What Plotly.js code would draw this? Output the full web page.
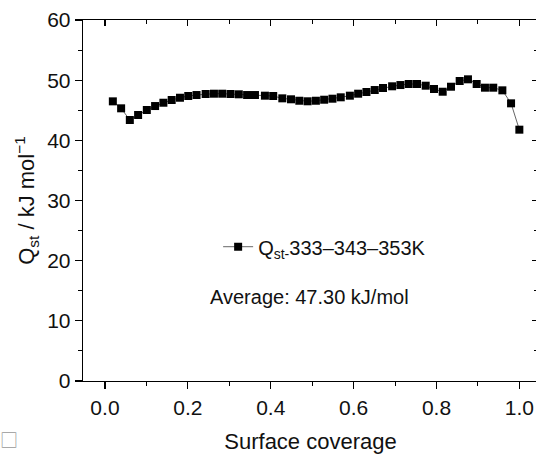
<!DOCTYPE html>
<html><head><meta charset="utf-8">
<script src="https://cdn.plot.ly/plotly-3.0.1.min.js"></script>
<style>html,body{margin:0;padding:0;overflow:hidden;background:#fff;}#chart{width:550px;height:460px;}</style>
</head><body><div id="chart"></div>
<script>
const seriesName = "Q<sub>st-</sub>333–343–353K";
const coverage = [0.019,0.039,0.060,0.080,0.101,0.121,0.141,0.161,0.181,0.201,0.221,0.243,0.263,0.283,0.303,0.323,0.343,0.362,0.386,0.406,0.428,0.449,0.469,0.489,0.509,0.529,0.549,0.569,0.591,0.611,0.631,0.651,0.671,0.693,0.713,0.733,0.753,0.774,0.794,0.815,0.835,0.856,0.876,0.897,0.917,0.937,0.959,0.980,1.000];
const qst = [46.48,45.32,43.38,44.21,45.04,45.70,46.25,46.70,47.08,47.37,47.53,47.70,47.75,47.75,47.70,47.65,47.53,47.53,47.42,47.37,46.98,46.82,46.58,46.49,46.58,46.75,46.92,47.15,47.42,47.75,48.03,48.36,48.70,48.98,49.19,49.36,49.36,49.08,48.53,48.08,48.91,49.86,50.14,49.36,48.75,48.75,48.31,46.15,41.77];
const xTickVals = [0,0.2,0.4,0.6,0.8,1.0];
const xTickText = ["0.0","0.2","0.4","0.6","0.8","1.0"];
const yTickVals = [0,10,20,30,40,50,60];
const averageText = "Average: 47.30 kJ/mol";

const FONT = "'Liberation Sans', Arial, sans-serif";
const trace = {
  x: coverage, y: qst, type: 'scatter', mode: 'lines+markers', name: seriesName,
  line: {color: '#666', width: 1},
  marker: {symbol: 'square', size: 8, color: '#000', line: {width: 0}}
};
const ghost = {x: [], y: [], xaxis: 'x2', yaxis: 'y2', showlegend: false, type: 'scatter'};
const axCommon = {showline: true, linecolor: '#000', linewidth: 1.3, showgrid: false, zeroline: false, tickcolor: '#000', tickwidth: 1.3};
const XR = [-0.053, 1.045];
const layout = {
  width: 550, height: 460,
  margin: {l: 83, r: 12, t: 20, b: 79},
  paper_bgcolor: '#fff', plot_bgcolor: '#fff',
  font: {family: FONT, size: 21, color: '#111'},
  showlegend: true,
  legend: {x: 0.297, y: 0.372, xanchor: 'left', yanchor: 'middle', bgcolor: 'rgba(0,0,0,0)', font: {size: 20, family: FONT}},
  xaxis: Object.assign({}, axCommon, {range: XR, tickvals: xTickVals, ticktext: xTickText, ticks: 'outside', ticklen: 7,
    minor: {dtick: 0.1, tick0: 0, ticks: 'outside', ticklen: 4, tickcolor: '#000', tickwidth: 1},
    title: {text: 'Surface coverage', font: {size: 22, family: FONT}, standoff: 16}}),
  yaxis: Object.assign({}, axCommon, {range: [0, 60], tickvals: yTickVals, ticks: 'outside', ticklen: 7,
    minor: {dtick: 5, tick0: 0, ticks: 'outside', ticklen: 4, tickcolor: '#000', tickwidth: 1},
    title: {text: 'Q<sub>st</sub> / kJ mol<sup>−1</sup>', font: {size: 22, family: FONT}, standoff: 6}}),
  xaxis2: Object.assign({}, axCommon, {overlaying: 'x', side: 'top', matches: 'x', range: XR, tickvals: xTickVals, ticks: 'inside', ticklen: 6, showticklabels: false,
    minor: {dtick: 0.1, tick0: 0, ticks: 'inside', ticklen: 4, tickcolor: '#000', tickwidth: 1}}),
  yaxis2: Object.assign({}, axCommon, {overlaying: 'y', side: 'right', range: [0, 60], tickvals: yTickVals, ticks: 'inside', ticklen: 6, showticklabels: false,
    minor: {dtick: 5, tick0: 0, ticks: 'inside', ticklen: 4, tickcolor: '#000', tickwidth: 1}}),
  annotations: [
    {xref: 'paper', yref: 'paper', x: 0.275, y: 0.233, xanchor: 'left', yanchor: 'middle', text: averageText, showarrow: false, font: {size: 20, family: FONT}},
    {xref: 'paper', yref: 'paper', x: -0.162, y: -0.161, xanchor: 'center', yanchor: 'middle', text: '□', showarrow: false, font: {size: 18, family: "'Noto Sans CJK JP', sans-serif", color: '#999'}}
  ]
};
Plotly.newPlot('chart', [trace, ghost], layout, {displayModeBar: false, staticPlot: true});
</script></body></html>
